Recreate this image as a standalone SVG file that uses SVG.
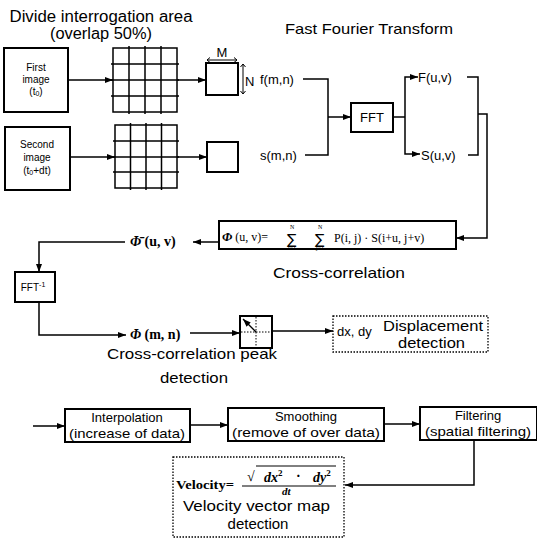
<svg xmlns="http://www.w3.org/2000/svg" width="537" height="539" viewBox="0 0 537 539">
<defs>
<marker id="ah" markerWidth="8" markerHeight="6" refX="8" refY="3" orient="auto" markerUnits="userSpaceOnUse">
<path d="M0,0 L8,3 L0,6 Z" fill="#000"/>
</marker>
</defs>
<style>
text{font-family:"Liberation Sans",Arial,sans-serif;fill:#000}
.t16{font-size:16px}
.t15{font-size:15px}
.t13{font-size:13px}
.t10{font-size:10px}
.ser{font-family:"Liberation Serif","DejaVu Serif",serif}
.box{fill:#fff;stroke:#000;stroke-width:2}
.dot{fill:#fff;stroke:#000;stroke-width:1.3;stroke-dasharray:1.5 1.5}
.ln{fill:none;stroke:#000;stroke-width:1.5}
.thin{fill:none;stroke:#000;stroke-width:1}
.arr{fill:none;stroke:#000;stroke-width:1.5;marker-end:url(#ah)}
.grid{fill:none;stroke:#000;stroke-width:1.5}
.mid{text-anchor:middle}
</style>

<g id="titles">
<text class="t16 mid" x="101" y="22" textLength="183" lengthAdjust="spacingAndGlyphs">Divide interrogation area</text>
<text class="t16 mid" x="101" y="39" textLength="102" lengthAdjust="spacingAndGlyphs">(overlap 50%)</text>
<text class="t15" x="285" y="34" textLength="168" lengthAdjust="spacingAndGlyphs">Fast Fourier Transform</text>
</g>

<g id="first-image">
<rect class="box" x="4" y="48" width="64" height="64"/>
<text class="t10 mid" x="36" y="71">First</text>
<text class="t10 mid" x="36" y="83">image</text>
<text class="t10 mid" x="36" y="95">(t<tspan font-size="7" dy="1">0</tspan><tspan dy="-1">)</tspan></text>
</g>
<g id="second-image">
<rect class="box" x="5" y="127" width="65" height="63"/>
<text class="t10 mid" x="37" y="148">Second</text>
<text class="t10 mid" x="37" y="161">image</text>
<text class="t10 mid" x="37" y="174">(t<tspan font-size="7" dy="1">0</tspan><tspan dy="-1">+dt)</tspan></text>
</g>

<g id="grid1">
<rect class="grid" x="113" y="48" width="64" height="64"/>
<path class="grid" d="M129,46V114M145,46V114M161,46V114M111,64H179M111,80H179M111,96H179"/>
</g>
<g id="grid2">
<rect class="grid" x="115" y="125" width="62" height="63"/>
<path class="grid" d="M130.5,123V190M146,123V190M161.5,123V190M113,141H179M113,157H179M113,172H179"/>
</g>

<g id="window1">
<rect class="box" x="206" y="63" width="32" height="32"/>
<text class="t13 mid" x="222" y="57">M</text>
<path class="thin" d="M207,60H237M210,57.5L207,60L210,62.5M234,57.5L237,60L234,62.5"/>
<path class="thin" d="M243,64V94M240.5,67L243,64L245.5,67M240.5,91L243,94L245.5,91"/>
<text class="t13" x="245" y="86">N</text>
</g>
<g id="window2">
<rect class="box" x="207" y="142" width="31" height="30"/>
</g>

<g id="fmn"><text class="t13" x="260" y="84">f(m,n)</text></g>
<g id="smn"><text class="t13" x="260" y="160">s(m,n)</text></g>

<g id="fft">
<rect class="box" x="351" y="103" width="42" height="29"/>
<text class="t13 mid" x="372" y="122">FFT</text>
</g>
<g id="Fuv"><text class="t13" x="418" y="82">F(u,v)</text></g>
<g id="Suv"><text class="t13" x="421" y="160">S(u,v)</text></g>

<g id="cross-correlation">
<rect class="box" x="219" y="221" width="237" height="28"/>
<text class="ser" font-size="12"><tspan x="222" y="241" font-size="13" font-weight="bold" font-style="italic">Φ</tspan><tspan> (u, v)=</tspan><tspan x="287" y="244" font-size="14" font-family="DejaVu Sans">∑</tspan><tspan x="290" y="229" font-size="6">N</tspan><tspan x="288" y="250" font-size="6">i=1</tspan><tspan x="315" y="244" font-size="14" font-family="DejaVu Sans">∑</tspan><tspan x="318" y="229" font-size="6">N</tspan><tspan x="316" y="250" font-size="6">j=1</tspan><tspan x="334" y="242">P(i, j) · S(i+u, j+v)</tspan></text>
<text class="t15" x="273" y="278" textLength="132" lengthAdjust="spacingAndGlyphs">Cross-correlation</text>
</g>

<g id="phi-uv">
<text class="ser" font-size="14" x="130" y="246"><tspan font-weight="bold" font-style="italic">Φ̄</tspan><tspan font-weight="bold"> (u, v)</tspan></text>
</g>

<g id="fft-inv">
<rect class="box" x="15" y="272" width="40" height="30"/>
<text class="t10 mid" x="33" y="291">FFT<tspan font-size="7" dy="-4">-1</tspan></text>
</g>

<g id="phi-mn">
<text class="ser" font-size="14" x="130" y="339"><tspan font-weight="bold" font-style="italic">Φ</tspan><tspan font-weight="bold"> (m, n)</tspan></text>
</g>

<g id="peak">
<rect class="box" x="240" y="316" width="32" height="32"/>
<path d="M256,317V347M241,332H271" stroke="#000" stroke-width="1" stroke-dasharray="1.5 1.5" fill="none"/>
<line x1="256" y1="332" x2="243" y2="319" stroke="#000" stroke-width="1.3" marker-end="url(#ah)"/>
<text class="t15" x="107" y="359" textLength="170" lengthAdjust="spacingAndGlyphs">Cross-correlation peak</text>
<text class="t15" x="160" y="383" textLength="68" lengthAdjust="spacingAndGlyphs">detection</text>
</g>

<g id="displacement">
<rect class="dot" x="333" y="316" width="155" height="36"/>
<text class="t13" x="337" y="336">dx, dy</text>
<text class="t15" x="383" y="331" textLength="100" lengthAdjust="spacingAndGlyphs">Displacement</text>
<text class="t15" x="398" y="348" textLength="67" lengthAdjust="spacingAndGlyphs">detection</text>
</g>

<g id="interpolation">
<rect class="box" x="65" y="409" width="125" height="33"/>
<text class="t13 mid" x="127" y="422">Interpolation</text>
<text class="t13 mid" x="127" y="438" textLength="116" lengthAdjust="spacingAndGlyphs">(increase of data)</text>
</g>
<g id="smoothing">
<rect class="box" x="228" y="408" width="156" height="33"/>
<text class="t13 mid" x="306" y="421">Smoothing</text>
<text class="t13 mid" x="306" y="437" textLength="148" lengthAdjust="spacingAndGlyphs">(remove of over data)</text>
</g>
<g id="filtering">
<rect class="box" x="420" y="407" width="117" height="33"/>
<text class="t13 mid" x="478" y="420">Filtering</text>
<text class="t13 mid" x="478" y="436" textLength="106" lengthAdjust="spacingAndGlyphs">(spatial filtering)</text>
</g>

<g id="velocity">
<rect class="dot" x="173" y="457" width="171" height="80"/>
<text class="ser" font-size="13" font-weight="bold" x="176" y="489" textLength="58" lengthAdjust="spacingAndGlyphs">Velocity=</text>
<line x1="256" y1="466" x2="336" y2="466" stroke="#000" stroke-width="1"/>
<line x1="242" y1="486" x2="336" y2="486" stroke="#000" stroke-width="1"/>
<text class="ser" font-size="14" font-weight="bold"><tspan x="247" y="481" font-weight="normal">√</tspan><tspan x="264" y="482" font-style="italic">dx</tspan><tspan font-size="9" dy="-6">2</tspan><tspan x="296" y="481">·</tspan><tspan x="313" y="482" font-style="italic">dy</tspan><tspan font-size="9" dy="-6">2</tspan><tspan x="282" y="495" font-size="11" font-style="italic">dt</tspan></text>
<text class="t15" x="183" y="511" textLength="147" lengthAdjust="spacingAndGlyphs">Velocity vector map</text>
<text class="t15 mid" x="258" y="529">detection</text>
</g>

<g id="connectors">
<line class="arr" x1="68" y1="80" x2="113" y2="80"/>
<line class="arr" x1="70" y1="157" x2="115" y2="157"/>
<line class="arr" x1="177" y1="80" x2="206" y2="80"/>
<line class="arr" x1="177" y1="157" x2="207" y2="157"/>
<path class="ln" d="M303,79H328V155H305"/>
<line class="arr" x1="328" y1="117" x2="351" y2="117"/>
<path class="ln" d="M393,117H405"/>
<path class="arr" d="M405,117V77H418"/>
<path class="arr" d="M405,117V154H420"/>
<path class="ln" d="M467,77H478V155H468"/>
<path class="arr" d="M478,114H487V238H456"/>
<line class="arr" x1="219" y1="242" x2="193" y2="242"/>
<path class="arr" d="M125,242H39V272"/>
<path class="arr" d="M39,302V335H126"/>
<line class="arr" x1="190" y1="333" x2="240" y2="333"/>
<line class="arr" x1="272" y1="331" x2="333" y2="331"/>
<line class="arr" x1="33" y1="426" x2="65" y2="426"/>
<line class="arr" x1="190" y1="425" x2="228" y2="425"/>
<line class="arr" x1="384" y1="424" x2="420" y2="424"/>
<path class="arr" d="M474,440V485H345"/>
</g>
</svg>
